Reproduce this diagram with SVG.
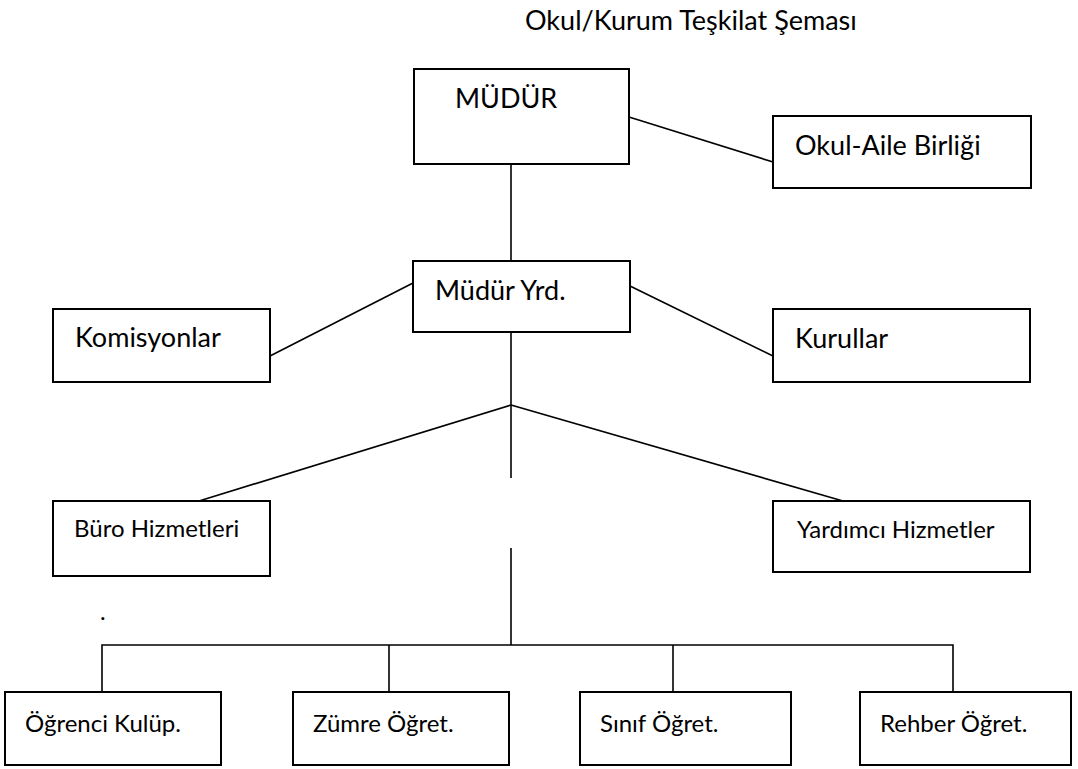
<svg xmlns="http://www.w3.org/2000/svg" width="1078" height="769" viewBox="0 0 1078 769">
<style>
  .box { fill: #ffffff; stroke: #000000; stroke-width: 2; }
  .t { font-family: Lato, "Open Sans", "Liberation Sans", sans-serif; fill: #000000; }
  .l { font-size: 27px; }
  .s { font-size: 24px; }
  .conn line, .conn polyline { stroke: #000000; stroke-width: 1.6; fill: none; }
</style>
<rect width="1078" height="769" fill="#ffffff"/>
<text id="title" class="t l" x="525" y="30">Okul/Kurum Teşkilat Şeması</text>
<g class="conn" id="connectors">
  <line x1="629" y1="117" x2="773" y2="162"/>
  <line x1="511" y1="164" x2="511" y2="261"/>
  <line x1="413" y1="283" x2="270" y2="356"/>
  <line x1="630" y1="286" x2="773" y2="356"/>
  <line x1="511" y1="332" x2="511" y2="478"/>
  <line x1="511" y1="405" x2="199" y2="501"/>
  <line x1="511" y1="405" x2="843" y2="501"/>
  <line x1="511" y1="548" x2="511" y2="645"/>
  <polyline points="102,692 102,645 953,645 953,692"/>
  <line x1="389" y1="645" x2="389" y2="692"/>
  <line x1="673" y1="645" x2="673" y2="692"/>
</g>
<g id="mudur"><rect class="box" x="414" y="69" width="215" height="95"/><text class="t l" x="455" y="108">MÜDÜR</text></g>
<g id="okul-aile"><rect class="box" x="773" y="116" width="258" height="72"/><text class="t l" x="795" y="155">Okul-Aile Birliği</text></g>
<g id="mudur-yrd"><rect class="box" x="413" y="261" width="217" height="71"/><text class="t l" x="435" y="300">Müdür Yrd.</text></g>
<g id="komisyonlar"><rect class="box" x="53" y="309" width="217" height="73"/><text class="t l" x="75" y="347">Komisyonlar</text></g>
<g id="kurullar"><rect class="box" x="773" y="309" width="257" height="73"/><text class="t l" x="795" y="348">Kurullar</text></g>
<g id="buro"><rect class="box" x="53" y="501" width="217" height="75"/><text class="t s" x="74" y="537">Büro Hizmetleri</text></g>
<g id="yardimci"><rect class="box" x="773" y="501" width="257" height="71"/><text class="t s" x="797" y="538">Yardımcı Hizmetler</text></g>
<text id="dot" class="t s" x="100" y="620">.</text>
<g id="ogrenci"><rect class="box" x="5" y="692" width="216" height="73"/><text class="t s" x="25" y="732">Öğrenci Kulüp.</text></g>
<g id="zumre"><rect class="box" x="293" y="692" width="216" height="73"/><text class="t s" x="313" y="732">Zümre Öğret.</text></g>
<g id="sinif"><rect class="box" x="580" y="692" width="211" height="73"/><text class="t s" x="600" y="732">Sınıf Öğret.</text></g>
<g id="rehber"><rect class="box" x="860" y="692" width="211" height="73"/><text class="t s" x="880" y="732">Rehber Öğret.</text></g>
</svg>
